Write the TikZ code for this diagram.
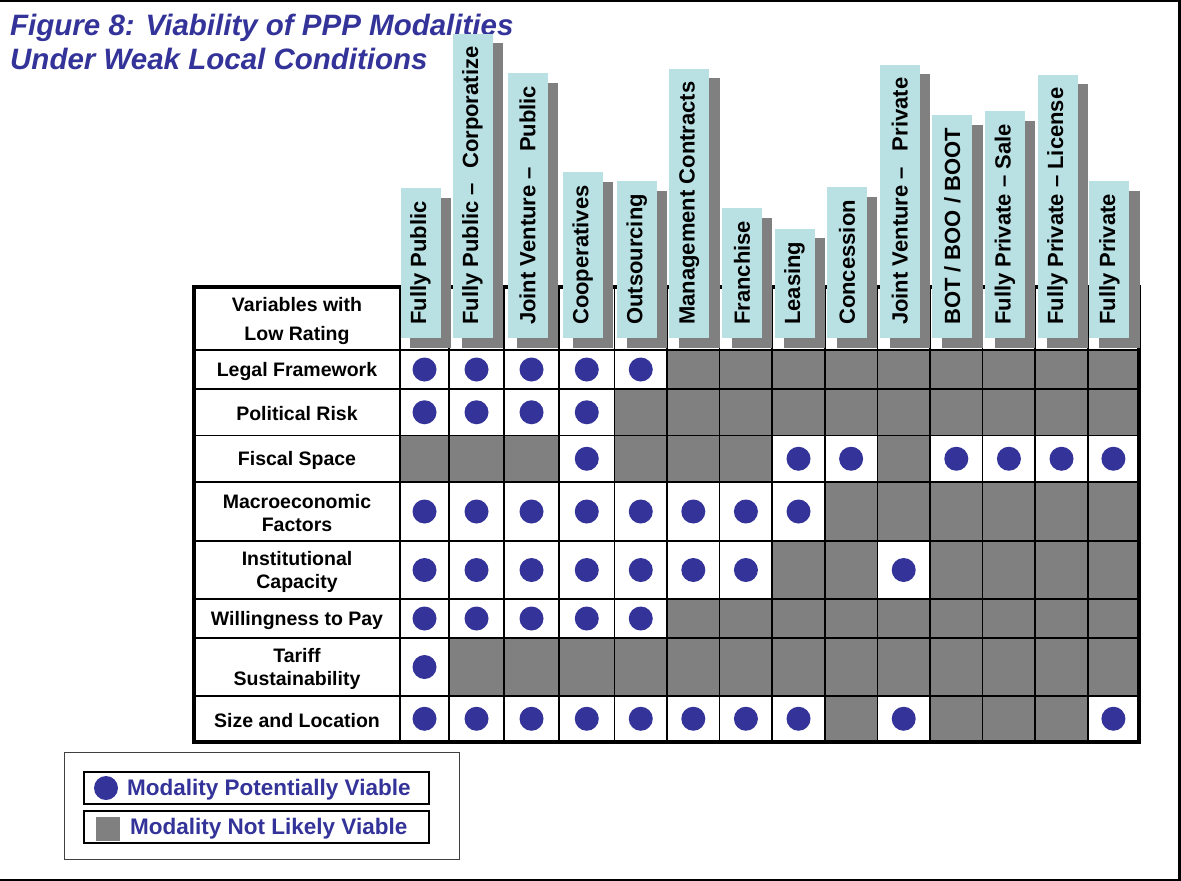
\documentclass[tikz,border=0pt]{standalone}
\usepackage{fontspec}
\setmainfont{Liberation Sans}
\usetikzlibrary{calc}
\pgfdeclarelayer{front}
\pgfsetlayers{main,front}
\definecolor{pppblue}{RGB}{51,51,153}
\definecolor{cellgray}{RGB}{128,128,128}
\definecolor{barblue}{RGB}{185,225,228}
\tikzset{gridline/.style={
            line width=1.6pt,
            black
        },
        tableborder/.style={
            line width=4pt,
            black
        },
        viable/.style={
            circle,
            fill=pppblue,
            inner sep=0pt,
            minimum size=24pt
        },
        keysquare/.style={
            fill=cellgray,
            inner sep=0pt,
            minimum size=24pt
        },
        headbar/.style={
            rotate=90,
            anchor=west,
            fill=barblue,
            inner xsep=13pt,
            inner ysep=0pt,
            minimum height=40pt,
            font=\fontsize{22}{26}\selectfont\bfseries
        },
        rowlabel/.style={
            align=center,
            font=\fontsize{19.5}{23}\selectfont\bfseries
        },
        figtitle/.style={
            anchor=base west,
            inner sep=0pt,
            text=pppblue,
            font=\fontsize{29.5}{34}\selectfont\bfseries\itshape
        },
        keybox/.style={
            draw,
            line width=1.4pt
        },
        keytext/.style={
            anchor=base west,
            inner sep=0pt,
            text=pppblue,
            font=\fontsize{22.5}{26}\selectfont\bfseries
        },
        pageframe/.style={
            line width=2.5pt,
            black
        }
    }
\def\colx{{400,449,504,559,614.5,667,719.6,772.2,824.8,877.4,930,982.6,1035.2,1087.8,1139}}
\begin{document}
\begin{tikzpicture}[x=1pt,y=-1pt]
        \useasboundingbox (0,0) rectangle (1181,881);
        \draw[pageframe] (0,1) -- (1179.5,1) -- (1179.5,880) -- (0,880);

        \node[figtitle] (title) at (10,35) {Figure 8: Viability of PPP Modalities};
        \node[figtitle] (subtitle) at (10,69) {Under Weak Local Conditions};

        \fill[cellgray] (400,350) rectangle (1139,741.5);
        \node[rowlabel] (var0) at (297,321) {Variables with\\[6pt]Low Rating};
        \foreach \ya/\yb/\lab/\vlist [count=\row] in {
                350/389/Legal Framework/{1,2,3,4,5},
                389/435.5/Political Risk/{1,2,3,4},
                435.5/482/Fiscal Space/{4,8,9,11,12,13,14},
                482/541/Macroeconomic\\Factors/{1,2,3,4,5,6,7,8},
                541/599/Institutional\\Capacity/{1,2,3,4,5,6,7,10},
                599/638/Willingness to Pay/{1,2,3,4,5},
                638/696/Tariff\\Sustainability/{1},
                696/741.5/Size and Location/{1,2,3,4,5,6,7,8,10,14}} {
            \node[rowlabel] (var\row) at (297,{(\ya+\yb)/2+1.5}) {\lab};
            \foreach \c in \vlist {
                \pgfmathsetmacro\xa{\colx[\c-1]}
                \pgfmathsetmacro\xb{\colx[\c]}
                \fill[white] (\xa,\ya) rectangle (\xb,\yb);
                \node[viable] (dot\row-\c) at ({(\xa+\xb)/2},{(\ya+\yb)/2}) {};
            }
        }

        \foreach \y in {350,389,435.5,482,541,599,638,696}
            \draw[gridline] (194,\y) -- (1139,\y);
        \foreach \x in {400,449,504,559,614.5,667,719.6,772.2,824.8,877.4,930,982.6,1035.2,1087.8}
            \draw[gridline] (\x,287) -- (\x,741.5);
        \draw[tableborder] (194,287) rectangle (1139,741.5);

        \foreach \name [count=\i] in {Fully Public, Fully Public –\hspace{8pt} Corporatize,
                Joint Venture –\hspace{9pt} Public, Cooperatives, Outsourcing,
                Management Contracts, Franchise, Leasing, Concession,
                Joint Venture –\hspace{10pt} Private, BOT / BOO / BOOT,
                Fully Private – Sale, Fully Private – License, Fully Private} {
            \pgfmathsetmacro\xa{\colx[\i-1]}
            \pgfmathsetmacro\xb{\colx[\i]}
            \pgfmathsetmacro\xm{(\xa+\xb)/2-4}
            \begin{pgfonlayer}{front}
                \node[headbar] (head\i) at (\xm,338) {\name};
            \end{pgfonlayer}
            \fill[cellgray] ($(head\i.south west)+(10,10)$) rectangle ($(head\i.north east)+(10,10)$);
        }

        \draw[keybox,line width=1pt,black!75] (64,752) rectangle (459,859);
        \draw[keybox] (84,772) rectangle (429,804);
        \draw[keybox] (84,811) rectangle (429,843);
        \node[viable] (keydot) at (106,788) {};
        \node[keysquare] (keysq) at (108,829) {};
        \node[keytext] (keyyes) at (127,795) {Modality Potentially Viable};
        \node[keytext] (keyno) at (130,834) {Modality Not Likely Viable};

    \end{tikzpicture}
\end{document}
